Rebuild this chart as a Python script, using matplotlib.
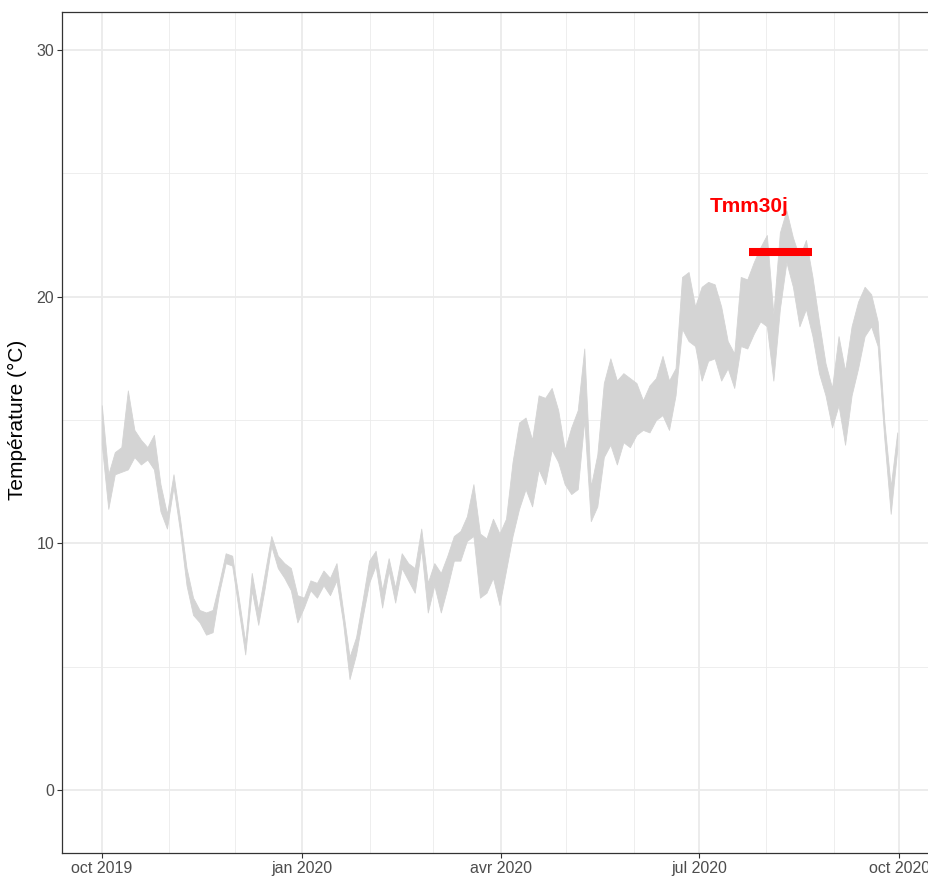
"""
Daily temperature ribbon (Oct 2019 - Sep 2020) with the Tmm30j window marked in red.
"""
import matplotlib
matplotlib.use("Agg")
import numpy as np
import pandas as pd
import matplotlib.pyplot as plt
import matplotlib.dates as mdates

plt.rcParams["font.family"] = ["Liberation Sans", "DejaVu Sans"]

# ribbon: one point every ~3 days, Oct 1 2019 -> Sep 30 2020
n_pts = 123
temp_upper = [
    15.6, 12.8, 13.7, 13.9, 16.2, 14.6, 14.2, 13.9, 14.4, 12.4,
    11.2, 12.8, 11.0, 9.0, 7.8, 7.3, 7.2, 7.3, 8.4, 9.6,
    9.5, 7.8, 6.0, 8.8, 7.3, 8.8, 10.3, 9.5, 9.2, 9.0,
    7.9, 7.8, 8.5, 8.4, 8.9, 8.6, 9.2, 7.3, 5.4, 6.2,
    7.7, 9.3, 9.7, 8.1, 9.4, 8.2, 9.6, 9.2, 9.0, 10.6,
    8.4, 9.2, 8.8, 9.5, 10.3, 10.5, 11.1, 12.4, 10.4, 10.2,
    11.0, 10.4, 11.0, 13.3, 14.9, 15.1, 14.2, 16.0, 15.9, 16.3,
    15.4, 13.8, 14.7, 15.4, 17.9, 12.3, 13.6, 16.5, 17.5, 16.6,
    16.9, 16.7, 16.5, 15.8, 16.4, 16.7, 17.6, 16.6, 17.1, 20.8,
    21.0, 19.6, 20.4, 20.6, 20.5, 19.6, 18.2, 17.7, 20.8, 20.7,
    21.4, 22.0, 22.5, 19.3, 22.6, 23.5, 22.4, 21.6, 22.3, 20.8,
    19.0, 17.3, 16.3, 18.4, 17.0, 18.8, 19.8, 20.4, 20.1, 19.0,
    15.0, 12.3, 14.5,
]
temp_lower = [
    14.0, 11.4, 12.8, 12.9, 13.0, 13.5, 13.2, 13.4, 13.0, 11.3,
    10.6, 12.3, 10.5, 8.3, 7.1, 6.8, 6.3, 6.4, 8.0, 9.2,
    9.1, 7.3, 5.5, 8.1, 6.7, 8.2, 9.9, 9.0, 8.6, 8.1,
    6.8, 7.4, 8.1, 7.8, 8.3, 7.9, 8.5, 6.8, 4.5, 5.5,
    7.0, 8.4, 9.1, 7.4, 8.9, 7.6, 9.0, 8.5, 8.0, 9.8,
    7.2, 8.3, 7.2, 8.2, 9.3, 9.3, 10.1, 10.3, 7.8, 8.0,
    8.6, 7.5, 8.9, 10.3, 11.4, 12.2, 11.5, 13.0, 12.4, 13.8,
    13.3, 12.4, 12.0, 12.2, 15.0, 10.9, 11.5, 13.5, 14.0, 13.2,
    14.1, 13.9, 14.4, 14.6, 14.5, 15.0, 15.2, 14.6, 16.0, 18.7,
    18.2, 18.0, 16.6, 17.4, 17.5, 16.6, 17.1, 16.3, 18.0, 17.9,
    18.5, 19.0, 18.8, 16.6, 19.5, 21.4, 20.4, 18.8, 19.5, 18.4,
    16.9, 16.0, 14.7, 15.6, 14.0, 16.0, 17.1, 18.4, 18.8, 18.0,
    14.3, 11.2, 13.8,
]
dates = pd.date_range("2019-10-01", "2020-09-30", periods=n_pts)

# 30-day mean marker
tmm_label = "Tmm30j"
tmm_start = pd.Timestamp("2020-07-24")
tmm_end = pd.Timestamp("2020-08-22")
tmm_value = 21.8
tmm_label_y = 23.43

x_breaks = pd.to_datetime(["2019-10-01", "2020-01-01", "2020-04-01", "2020-07-01", "2020-10-01"])
x_labels = ["oct 2019", "jan 2020", "avr 2020", "jul 2020", "oct 2020"]
x_minor = pd.to_datetime(["2019-11-01", "2019-12-01", "2020-02-01", "2020-03-01",
                          "2020-05-01", "2020-06-01", "2020-08-01", "2020-09-01"])
y_breaks = [0, 10, 20, 30]
y_minor = [5, 15, 25]

fig = plt.figure(figsize=(9.29, 8.76), dpi=100)
ax = fig.add_axes([62 / 929, 23 / 876, 875 / 929, 841 / 876])

ax.fill_between(dates, temp_lower, temp_upper, color="#d4d4d4", linewidth=0.6,
                edgecolor="#d4d4d4", zorder=2)
ax.plot([tmm_start, tmm_end], [tmm_value, tmm_value], color="#ff0000", linewidth=5.8,
        solid_capstyle="butt", zorder=3)
ax.text(tmm_start, tmm_label_y, tmm_label, color="#ff0000", fontsize=15,
        fontweight="bold", ha="center", va="baseline", zorder=4)

pad = pd.Timedelta(days=18.25)
ax.set_xlim(pd.Timestamp("2019-10-01") - pad, pd.Timestamp("2020-09-30") + pad)
ax.set_ylim(-2.55, 31.54)

ax.set_xticks(x_breaks)
ax.set_xticklabels(x_labels)
ax.set_xticks(x_minor, minor=True)
ax.set_yticks(y_breaks)
ax.set_yticks(y_minor, minor=True)

ax.grid(which="major", color="#ebebeb", linewidth=1.3, zorder=0)
ax.grid(which="minor", color="#ebebeb", linewidth=0.6, zorder=0)
ax.set_axisbelow(True)

ax.tick_params(which="major", length=3.5, width=0.8, color="#333333",
               labelcolor="#4d4d4d", labelsize=11.5, pad=2)
ax.tick_params(which="minor", length=0)
for s in ax.spines.values():
    s.set_color("#333333")
    s.set_linewidth(0.9)

ax.set_ylabel("Température (°C)", fontsize=15)
ax.yaxis.set_label_coords(-0.04, 0.515)

fig.savefig("out.png", dpi=100, facecolor="white")
plt.close(fig)
